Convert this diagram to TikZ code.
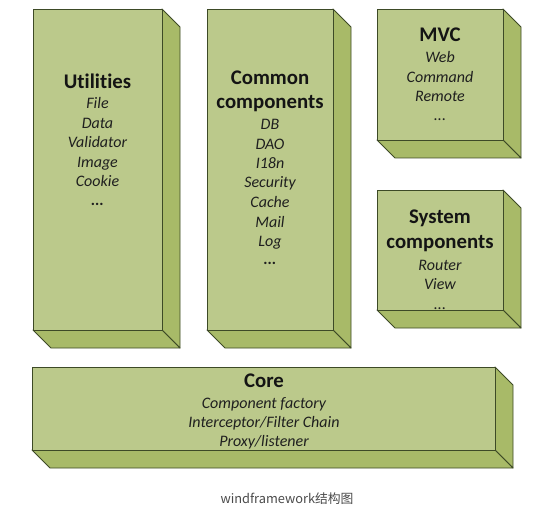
\documentclass[tikz,border=0pt]{standalone}
\usepackage{fontspec}
\setmainfont{Carlito}[Ligatures={NoCommon,NoDiscretionary}]
\newfontfamily\cjkfont{Noto Sans CJK SC}
\definecolor{frontc}{HTML}{BBC98B}
\definecolor{sidec}{HTML}{A8BA68}
\definecolor{edgec}{HTML}{3D4A26}
\definecolor{capc}{HTML}{4A4A4A}
\newcommand{\olivebox}[4]{%
  \draw[face,fill=sidec] (#3,#2) -- (#3+18,#2+18) -- (#3+18,#4+18) -- (#3,#4) -- cycle;
  \draw[face,fill=sidec] (#1,#4) -- (#3,#4) -- (#3+18,#4+18) -- (#1+18,#4+18) -- cycle;
  \draw[face,fill=frontc] (#1,#2) rectangle (#3,#4);
}
\begin{document}
\begin{tikzpicture}[x=1pt,y=-1pt,
  face/.style={draw=edgec,line width=0.9pt,line join=round},
  titletext/.style={anchor=base,inner sep=0pt,font=\fontsize{20.8}{24}\selectfont\bfseries,text=black!92},
  itemtext/.style={anchor=base,inner sep=0pt,font=\fontsize{16}{19}\selectfont\itshape,text=black!88},
  captext/.style={anchor=base,inner sep=0pt,font=\cjkfont\fontsize{12.8}{15}\selectfont,text=capc}]
\useasboundingbox (0,0) rectangle (556,521);
% boxes
\olivebox{33}{9}{162}{330}
\olivebox{207}{9}{333}{330}
\olivebox{377}{9}{503}{140}
\olivebox{377}{190}{503}{310}
\olivebox{32}{367}{495}{450}
% Utilities
\node[titletext] (ut) at (97.5,89) {Utilities};
\node[itemtext] (ut1) at (97.5,109) {File};
\node[itemtext] (ut2) at (97.5,128.5) {Data};
\node[itemtext] (ut3) at (97.5,148) {Validator};
\node[itemtext] (ut4) at (97.5,167.5) {Image};
\node[itemtext] (ut5) at (97.5,187) {Cookie};
\node[itemtext] (ut6) at (97.5,206) {\bfseries...};
% Common components
\node[titletext] (cc) at (270,85) {Common};
\node[titletext] (cc0) at (270,108.5) {components};
\node[itemtext] (cc1) at (270,130) {DB};
\node[itemtext] (cc2) at (270,149.5) {DAO};
\node[itemtext] (cc3) at (270,168.5) {I18n};
\node[itemtext] (cc4) at (270,188) {Security};
\node[itemtext] (cc5) at (270,207.5) {Cache};
\node[itemtext] (cc6) at (270,227) {Mail};
\node[itemtext] (cc7) at (270,246) {Log};
\node[itemtext] (cc8) at (270,264) {\bfseries...};
% MVC
\node[titletext] (mv) at (440,42) {MVC};
\node[itemtext] (mv1) at (440,63) {Web};
\node[itemtext] (mv2) at (440,82.5) {Command};
\node[itemtext] (mv3) at (440,102) {Remote};
\node[itemtext] (mv4) at (440,121) {...};
% System components
\node[titletext] (sc) at (440,223.5) {System};
\node[titletext] (sc0) at (440,248.5) {components};
\node[itemtext] (sc1) at (440,270.5) {Router};
\node[itemtext] (sc2) at (440,289.5) {View};
\node[itemtext] (sc3) at (440,309) {...};
% Core
\node[titletext] (co) at (264,387) {Core};
\node[itemtext] (co1) at (264,408) {Component factory};
\node[itemtext] (co2) at (264,427) {Interceptor/Filter Chain};
\node[itemtext] (co3) at (264,446.5) {Proxy/listener};
% caption
\node[captext] (cap) at (287,503) {windframework结构图};
\end{tikzpicture}
\end{document}
